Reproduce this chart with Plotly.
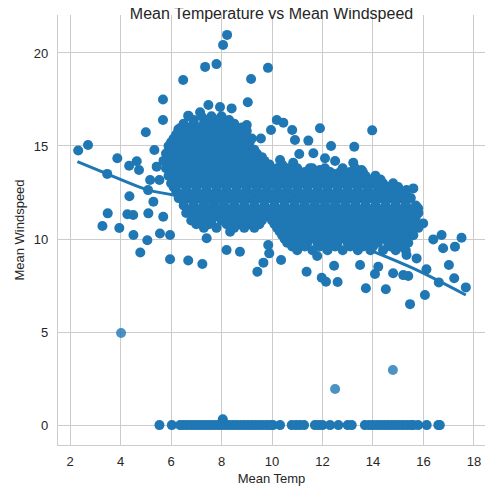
import plotly.graph_objects as go

# --- days with zero mean windspeed (temperature values) ---
zero_temp = [5.54, 6.03, 6.36, 6.5, 6.65, 6.8, 6.95, 7.1, 7.25, 7.4, 7.55, 7.7, 7.85, 8.0,
             8.15, 8.3, 8.45, 8.6, 8.75, 8.9, 9.05, 9.2, 9.35, 9.5, 9.65, 9.8, 9.95, 10.04,
             10.32, 10.78, 10.95, 11.1, 11.27, 11.7, 11.85, 12.0, 12.3, 12.63, 13.0, 13.16,
             13.68, 13.85, 14.0, 14.15, 14.3, 14.45, 14.6, 14.75, 14.9, 15.05, 15.2, 15.35,
             15.5, 15.6, 15.79, 16.13, 16.59, 16.65]

# --- scattered (individually read) points ---
scatter_temp = [2.32, 2.71, 3.87, 3.47, 4.34, 4.64, 4.73, 5.0, 5.34, 5.43, 5.17, 5.54, 4.35,
                5.09, 5.3, 3.49, 4.27, 4.5, 5.1, 5.69, 3.28, 3.95, 4.51, 5.06, 4.78, 5.56,
                5.96, 5.96, 6.68, 7.24, 7.41, 8.2, 8.73, 8.34, 9.42, 9.66, 9.85, 9.89, 5.68,
                5.68, 6.48, 7.35, 7.8, 8.22, 8.06, 9.17, 9.84, 9.04, 7.48, 7.15, 6.68, 6.29,
                7.94, 8.4, 9.13, 9.56, 9.96, 10.19, 10.45, 10.8, 10.91, 11.44, 11.9, 13.97,
                12.34, 13.26, 9.0, 11.64, 12.1, 12.5, 13.22, 13.55, 11.08, 10.32, 10.84, 11.5,
                11.9, 12.46, 12.89, 13.35, 13.95, 14.34, 14.8, 15.33, 15.6, 15.79, 16.72,
                17.51, 17.25, 16.78, 16.39, 15.99, 17.01, 17.22, 16.61, 17.68, 16.06, 15.47,
                14.51, 13.72, 12.6, 12.14, 11.97, 12.46, 11.37, 11.79, 10.36, 15.4, 15.2,
                14.08, 14.21, 14.8, 16.12, 13.49, 15.33, 15.73, 8.05]
scatter_wind = [14.76, 15.05, 14.34, 13.5, 13.94, 14.18, 13.71, 15.74, 14.78, 13.89, 13.17,
                13.17, 12.3, 12.63, 12.0, 11.38, 11.33, 11.29, 11.38, 11.2, 10.7, 10.59,
                10.22, 9.93, 9.28, 10.3, 10.22, 8.91, 8.85, 8.66, 10.04, 9.41, 9.32, 10.39,
                8.24, 8.73, 9.68, 9.23, 17.5, 16.4, 18.55, 19.25, 19.4, 20.97, 20.43, 18.6,
                19.2, 17.35, 17.2, 16.81, 16.63, 15.9, 17.1, 17.02, 15.27, 15.4, 15.86, 16.4,
                16.25, 15.86, 15.32, 15.29, 15.95, 15.84, 15.0, 14.96, 16.13, 14.61, 14.34,
                14.19, 14.1, 13.71, 14.57, 14.25, 14.1, 13.8, 13.71, 13.5, 13.5, 13.17, 13.08,
                12.54, 12.78, 12.63, 12.72, 11.65, 10.22, 10.07, 9.59, 9.5, 9.98, 10.84, 8.6,
                7.89, 7.67, 7.4, 6.99, 6.5, 7.3, 7.35, 7.69, 7.7, 7.92, 8.56, 8.24, 9.09,
                8.87, 8.01, 8.06, 8.12, 8.51, 8.16, 8.37, 8.6, 9.14, 8.96, 0.31]

# --- dense cluster, read row by row: (windspeed, temperatures on that row) ---
cluster_rows = [
    (16.6, [6.7, 7.2, 7.6, 8.0]),
    (16.4, [6.9, 7.4, 7.8, 8.3]),
    (16.2, [6.5, 6.9, 7.3, 7.7, 8.1, 8.5]),
    (16.0, [6.4, 6.7, 7.1, 7.5, 7.9, 8.3, 8.8]),
    (15.8, [6.3, 6.6, 7.0, 7.4, 7.8, 8.2, 8.6, 9.0]),
    (15.6, [6.2, 6.8, 7.2, 7.6, 8.0, 8.4, 8.8]),
    (15.4, [6.1, 6.5, 6.9, 7.3, 7.7, 8.1, 8.5, 8.9, 9.2]),
    (15.2, [6.0, 6.4, 6.8, 7.2, 7.6, 8.0, 8.4, 8.8]),
    (15.0, [5.9, 6.3, 6.7, 7.1, 7.5, 7.9, 8.3, 8.7, 9.1]),
    (14.8, [6.0, 6.5, 6.9, 7.3, 7.7, 8.1, 8.5, 8.9, 9.3]),
    (14.6, [5.8, 6.2, 6.6, 7.0, 7.4, 7.8, 8.2, 8.6, 9.0, 9.4]),
    (14.4, [5.9, 6.4, 6.8, 7.2, 7.6, 8.0, 8.4, 8.8, 9.2, 9.6]),
    (14.2, [5.7, 6.1, 6.5, 6.9, 7.3, 7.7, 8.1, 8.5, 8.9, 9.3, 9.7]),
    (14.0, [5.9, 6.3, 6.7, 7.1, 7.5, 7.9, 8.3, 8.7, 9.1, 9.5, 9.9, 10.4]),
    (13.8, [5.8, 6.2, 6.6, 7.0, 7.4, 7.8, 8.2, 8.6, 9.0, 9.4, 9.8, 10.2, 10.6, 11.0, 11.6, 12.1, 12.8, 13.3]),
    (13.6, [6.0, 6.4, 6.8, 7.2, 7.6, 8.0, 8.4, 8.8, 9.2, 9.6, 10.0, 10.5, 10.9, 11.3, 11.8, 12.3, 12.7, 13.1, 13.6]),
    (13.4, [5.9, 6.3, 6.7, 7.1, 7.5, 7.9, 8.3, 8.7, 9.1, 9.5, 9.9, 10.3, 10.7, 11.2, 11.6, 12.0, 12.5, 12.9, 13.3, 13.7, 14.1]),
    (13.2, [6.1, 6.5, 6.9, 7.3, 7.7, 8.1, 8.5, 8.9, 9.3, 9.7, 10.1, 10.5, 10.9, 11.4, 11.8, 12.2, 12.6, 13.0, 13.4, 13.9, 14.3]),
    (13.0, [6.0, 6.4, 6.8, 7.2, 7.6, 8.0, 8.4, 8.8, 9.2, 9.6, 10.0, 10.4, 10.8, 11.2, 11.6, 12.0, 12.4, 12.8, 13.2, 13.6, 14.0, 14.4, 14.8]),
    (12.8, [6.1, 6.6, 7.0, 7.4, 7.8, 8.2, 8.6, 9.0, 9.4, 9.8, 10.2, 10.6, 11.0, 11.4, 11.8, 12.2, 12.6, 13.0, 13.4, 13.8, 14.2, 14.6, 15.0]),
    (12.6, [6.2, 6.6, 7.0, 7.4, 7.8, 8.2, 8.6, 9.0, 9.4, 9.8, 10.2, 10.6, 11.0, 11.4, 11.8, 12.2, 12.6, 13.0, 13.4, 13.8, 14.2, 14.6, 15.0]),
    (12.4, [6.4, 6.8, 7.2, 7.6, 8.0, 8.4, 8.8, 9.2, 9.6, 10.0, 10.4, 10.8, 11.2, 11.6, 12.0, 12.4, 12.8, 13.2, 13.6, 14.0, 14.4, 14.8, 15.2]),
    (12.2, [6.3, 6.7, 7.1, 7.5, 7.9, 8.3, 8.7, 9.1, 9.5, 9.9, 10.3, 10.7, 11.1, 11.5, 11.9, 12.3, 12.7, 13.1, 13.5, 13.9, 14.3, 14.7, 15.1, 15.5]),
    (12.0, [6.5, 6.9, 7.3, 7.7, 8.1, 8.5, 8.9, 9.3, 9.7, 10.1, 10.5, 10.9, 11.3, 11.7, 12.1, 12.5, 12.9, 13.3, 13.7, 14.1, 14.5, 14.9, 15.3]),
    (11.8, [6.5, 6.9, 7.3, 7.7, 8.1, 8.5, 8.9, 9.3, 9.7, 10.1, 10.5, 10.9, 11.3, 11.7, 12.1, 12.5, 12.9, 13.3, 13.7, 14.1, 14.5, 14.9, 15.3, 15.7]),
    (11.6, [6.7, 7.1, 7.5, 7.9, 8.3, 8.7, 9.1, 9.5, 9.9, 10.3, 10.7, 11.1, 11.5, 11.9, 12.3, 12.7, 13.1, 13.5, 13.9, 14.3, 14.7, 15.1, 15.5]),
    (11.4, [6.6, 7.0, 7.4, 7.8, 8.2, 8.6, 9.0, 9.4, 9.8, 10.2, 10.6, 11.0, 11.4, 11.8, 12.2, 12.6, 13.0, 13.4, 13.8, 14.2, 14.6, 15.0, 15.4, 15.8]),
    (11.2, [6.9, 7.3, 7.7, 8.1, 8.5, 8.9, 9.3, 9.7, 10.1, 10.5, 10.9, 11.3, 11.7, 12.1, 12.5, 12.9, 13.3, 13.7, 14.1, 14.5, 14.9, 15.3, 15.7]),
    (11.0, [6.8, 7.2, 7.6, 8.0, 8.4, 8.8, 9.2, 9.6, 10.0, 10.4, 10.8, 11.2, 11.6, 12.0, 12.4, 12.8, 13.2, 13.6, 14.0, 14.4, 14.8, 15.2, 15.6]),
    (10.8, [7.0, 7.5, 8.2, 8.7, 9.1, 9.5, 10.1, 10.5, 10.9, 11.3, 11.7, 12.1, 12.5, 12.9, 13.3, 13.7, 14.1, 14.5, 14.9, 15.3, 15.7]),
    (10.6, [7.3, 7.8, 8.5, 8.9, 9.3, 10.2, 10.6, 11.0, 11.4, 11.8, 12.2, 12.6, 13.0, 13.4, 13.8, 14.2, 14.6, 15.0, 15.4, 15.8]),
    (10.4, [10.3, 10.7, 11.1, 11.5, 11.9, 12.3, 12.7, 13.1, 13.5, 13.9, 14.3, 14.7, 15.1, 15.5]),
    (10.2, [10.4, 10.8, 11.2, 11.6, 12.0, 12.4, 12.8, 13.2, 13.6, 14.0, 14.4, 14.8, 15.2, 15.6]),
    (10.0, [10.5, 10.9, 11.3, 11.7, 12.1, 12.5, 12.9, 13.3, 13.7, 14.1, 14.5, 14.9, 15.3]),
    (9.8, [10.6, 11.0, 11.4, 11.8, 12.2, 12.6, 13.0, 13.4, 13.8, 14.2, 14.6, 15.0, 15.4]),
    (9.6, [10.8, 11.3, 11.9, 12.5, 13.1, 13.6, 14.0, 14.7, 15.1]),
    (9.4, [11.0, 11.6, 12.2, 12.8, 13.4, 13.9, 14.4, 14.9, 15.3]),
]

# --- single (lighter) outliers ---
single_temp = [4.02, 12.5, 14.79]
single_wind = [4.95, 1.94, 2.96]

# --- fitted trend line ---
line_temp = [2.29, 3.49, 5.10, 6.09, 8.3, 10.32, 11.64, 13.62, 15.6, 17.68]
line_wind = [14.16, 13.49, 12.63, 12.37, 11.71, 11.11, 10.66, 9.55, 8.42, 6.99]

main_x = list(scatter_temp) + list(zero_temp)
main_y = list(scatter_wind) + [0.0] * len(zero_temp)
for w, temps in cluster_rows:
    main_x += temps
    main_y += [w] * len(temps)

blue = "#1f77b4"
fig = go.Figure()
fig.add_trace(go.Scatter(x=main_x, y=main_y, mode="markers",
                         marker=dict(color=blue, size=10, line=dict(width=0)),
                         showlegend=False, hoverinfo="skip"))
fig.add_trace(go.Scatter(x=single_temp, y=single_wind, mode="markers",
                         marker=dict(color=blue, size=10, opacity=0.8, line=dict(width=0)),
                         showlegend=False, hoverinfo="skip"))
fig.add_trace(go.Scatter(x=line_temp, y=line_wind, mode="lines", line_shape="spline",
                         line=dict(color=blue, width=3), showlegend=False, hoverinfo="skip"))

axis_common = dict(showgrid=True, gridcolor="#cccccc", gridwidth=1, zeroline=False,
                   showline=True, linecolor="#cccccc", linewidth=1.25, mirror=False,
                   ticks="", tickfont=dict(size=13, color="#262626"),
                   title_font=dict(size=13, color="#262626"), automargin=False)

fig.update_layout(
    width=500, height=500,
    margin=dict(l=50, r=23, t=7, b=63),
    paper_bgcolor="white", plot_bgcolor="white",
    font=dict(family="Liberation Sans, Arial, sans-serif", color="#262626"),
    title=dict(text="Mean Temperature vs Mean Windspeed", x=0.527, xref="container",
               y=1.0, yref="container", yanchor="top", pad=dict(t=0), automargin=False,
               font=dict(size=16, color="#262626")),
    xaxis=dict(axis_common, range=[1.52, 18.44], tickvals=[2, 4, 6, 8, 10, 12, 14, 16, 18],
               ticklabelstandoff=4, title=dict(text="Mean Temp", standoff=6)),
    yaxis=dict(axis_common, range=[-1.07, 22.04], tickvals=[0, 5, 10, 15, 20],
               ticklabelstandoff=6, title=dict(text="Mean Windspeed", standoff=6)),
)

fig.write_html("out.html")
